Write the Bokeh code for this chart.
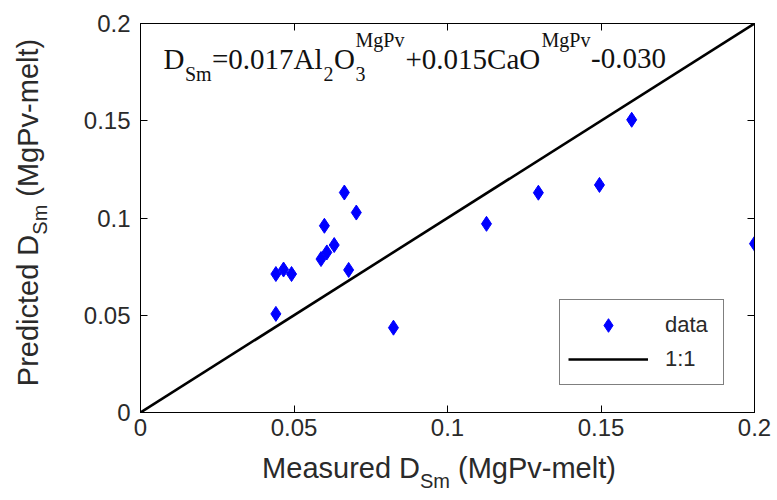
import math
from bokeh.plotting import figure
from bokeh.layouts import row, column
from bokeh.models import Range1d, FixedTicker, LinearAxis, Label, Legend, LegendItem
from bokeh.embed import file_html
from bokeh.resources import INLINE

# ---- data ----
measured = [0.0441, 0.0441, 0.0466, 0.0492, 0.0588, 0.0599, 0.0607, 0.0631, 0.0664, 0.0678,
            0.0703, 0.0824, 0.1127, 0.1296, 0.1495, 0.1600, 0.2000]
predicted = [0.0507, 0.0712, 0.0735, 0.0712, 0.0789, 0.0960, 0.0823, 0.0861, 0.1131, 0.0733,
             0.1028, 0.0436, 0.0970, 0.1130, 0.1170, 0.1505, 0.0868]
one_to_one = [0.0, 0.2]
tick_values = [0, 0.05, 0.1, 0.15, 0.2]
tick_labels = ["0", "0.05", "0.1", "0.15", "0.2"]

W, H = 777, 500
LW = 60          # width of the y-label strip
BH = 52          # height of the x-label strip
FL, FR, FT, FB = 140, 754, 23, 412  # frame edges in page pixels
DY = -10         # empirical baseline correction (px)

TICK_FONT = "Liberation Sans"
TICK_SIZE = "24px"
TEXT_COLOR = "#2a2a2a"


def X(px):
    return (px - FL) / (FR - FL) * 0.2


def Y(py):
    return (FB - py) / (FB - FT) * 0.2


p = figure(width=W - LW, height=H - BH, output_backend="svg", toolbar_location=None,
           x_range=Range1d(0, 0.2), y_range=Range1d(0, 0.2),
           min_border_left=FL - LW, min_border_right=W - FR, min_border_top=FT,
           min_border_bottom=H - BH - FB)
p.background_fill_color = "white"
p.border_fill_color = "white"
p.outline_line_color = "black"
p.outline_line_width = 1
p.xgrid.visible = False
p.ygrid.visible = False

overrides = {v: l for v, l in zip(tick_values, tick_labels)}

for ax in (p.xaxis[0], p.yaxis[0]):
    ax.ticker = FixedTicker(ticks=tick_values)
    ax.major_label_overrides = overrides
    ax.major_tick_in = 7
    ax.major_tick_out = 0
    ax.minor_tick_line_color = None
    ax.axis_line_color = "black"
    ax.major_tick_line_color = "black"
    ax.major_label_text_font = TICK_FONT
    ax.major_label_text_font_size = TICK_SIZE
    ax.major_label_text_color = TEXT_COLOR
p.xaxis[0].major_label_standoff = 6
p.yaxis[0].major_label_standoff = 10

for side in ("above", "right"):
    ax = LinearAxis(ticker=FixedTicker(ticks=tick_values), major_tick_in=7, major_tick_out=0,
                    minor_tick_line_color=None, major_label_text_font_size="1px",
                    major_label_text_color=None, major_label_standoff=0,
                    axis_line_color="black", major_tick_line_color="black")
    p.add_layout(ax, side)

# 1:1 line
line_r = p.line(one_to_one, one_to_one, line_color="black", line_width=2.6)
# data points
pts = p.scatter(measured, predicted, marker="diamond", size=15, fill_color="#0000ff",
                line_color="#0000ff", line_width=1)

legend = Legend(items=[LegendItem(label="data", renderers=[pts]),
                       LegendItem(label="1:1", renderers=[line_r])],
                location=(419, 27), border_line_color="black", border_line_width=1,
                background_fill_color="white", background_fill_alpha=1,
                label_text_font=TICK_FONT, label_text_font_size="22px",
                label_text_color=TEXT_COLOR, glyph_width=80, glyph_height=34,
                label_standoff=17, label_width=50, padding=8, spacing=0, margin=0)
p.add_layout(legend, "center")

# ---- formula text ----
SERIF = "Liberation Serif"
MAIN, SUB = "29px", "20px"
formula = [
    ("D", 163, 68, MAIN), ("Sm", 184.5, 83, SUB), ("=0.017Al", 211.5, 68, MAIN),
    ("2", 323.0, 83, SUB), ("O", 333.5, 68, MAIN), ("3", 355.0, 83, SUB),
    ("MgPv", 355.0, 49, SUB), ("+0.015CaO", 405.0, 68, MAIN), ("MgPv", 541.0, 49, SUB),
    ("-0.030", 590.5, 68, MAIN),
]
for txt, px, py, fs in formula:
    p.add_layout(Label(x=X(px), y=Y(py + DY), text=txt, text_font=SERIF, text_font_size=fs,
                       text_color="#111111", text_align="left", text_baseline="alphabetic"))


def strip(width, height, xr, yr, **kw):
    f = figure(width=width, height=height, output_backend="svg", toolbar_location=None,
               x_range=xr, y_range=yr, x_axis_type=None, y_axis_type=None, **kw)
    f.outline_line_color = None
    f.background_fill_color = "white"
    f.border_fill_color = "white"
    f.xgrid.visible = False
    f.ygrid.visible = False
    return f


# ---- axis labels ----
LAB, LSUB = "29px", "20px"
# bottom strip: x in the main plot's data units (frames are aligned), y in page pixels
fx = strip(W - LW, BH, Range1d(0, 0.2), Range1d(H, H - BH),
           min_border_left=FL - LW, min_border_right=W - FR, min_border_top=0,
           min_border_bottom=0)
xlab = [("Measured D", 261.6, 477, LAB), ("Sm", 419.5, 490, LSUB),
        ("(MgPv-melt)", 457.5, 477, LAB)]
for txt, px, py, fs in xlab:
    fx.add_layout(Label(x=X(px), y=py + DY, text=txt, text_font=TICK_FONT, text_font_size=fs,
                        text_color=TEXT_COLOR, text_align="left", text_baseline="alphabetic"))

# left strip: page pixel coordinates
fy = strip(LW, H, Range1d(0, LW), Range1d(H, 0), min_border=0)
ylab = [("Predicted D", 37, 385.7, LAB), ("Sm", 49, 234.2, LSUB), ("(MgPv-melt)", 37, 196.2, LAB)]
for txt, px, py, fs in ylab:
    fy.add_layout(Label(x=px + DY, y=py, text=txt, text_font=TICK_FONT, text_font_size=fs,
                        text_color=TEXT_COLOR, text_align="left", text_baseline="alphabetic",
                        angle=math.pi / 2))

layout = row(fy, column(p, fx, spacing=0), spacing=0)
open("out.html", "w").write(file_html(layout, INLINE))
